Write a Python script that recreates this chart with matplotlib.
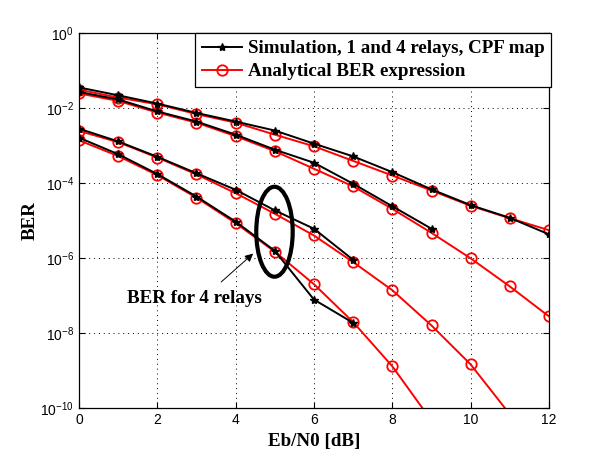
import numpy as np
import matplotlib
matplotlib.use('Agg')
import matplotlib.pyplot as plt
from matplotlib.patches import Ellipse

plt.rcParams['font.family'] = ['Liberation Sans', 'DejaVu Sans']
plt.rcParams['mathtext.fontset'] = 'custom'
plt.rcParams['mathtext.rm'] = 'Liberation Sans'

# Eb/N0 [dB]
snr = np.arange(0, 13)

# BER (log10 values), 4 groups, sim and analytical
sim_a = [-1.44, -1.65, -1.87, -2.12, -2.35, -2.59, -2.94, -3.28, -3.70, -4.16, -4.58, -4.92, -5.36]
ana_a = [-1.50, -1.71, -1.89, -2.15, -2.38, -2.70, -3.01, -3.40, -3.79, -4.19, -4.60, -4.93, -5.25]

sim_b = [-1.56, -1.76, -2.08, -2.35, -2.70, -3.10, -3.45, -4.01, -4.61, -5.21]
ana_b = [-1.60, -1.80, -2.11, -2.38, -2.74, -3.14, -3.61, -4.08, -4.68, -5.32, -6.00, -6.75, -7.55]

sim_c = [-2.54, -2.88, -3.29, -3.73, -4.17, -4.72, -5.21, -6.04]
ana_c = [-2.60, -2.90, -3.31, -3.76, -4.26, -4.81, -5.39, -6.10, -6.85, -7.79, -8.83, -10.16]

sim_d = [-2.78, -3.22, -3.75, -4.35, -5.02, -5.80, -7.10, -7.72]
ana_d = [-2.85, -3.27, -3.78, -4.38, -5.06, -5.82, -6.69, -7.70, -8.88, -10.33]

sims = [sim_a, sim_b, sim_c, sim_d]
anas = [ana_a, ana_b, ana_c, ana_d]

label_sim = 'Simulation, 1 and 4 relays, CPF map'
label_ana = 'Analytical BER expression'

fig = plt.figure(figsize=(6.07, 4.58), dpi=100)
ax = fig.add_axes([0.130, 0.1085, 0.7745, 0.8185])

serif_bold = dict(family='Liberation Serif', weight='bold', size=13.7)

for i, (s, a) in enumerate(zip(sims, anas)):
    ax.semilogy(snr[:len(a)], 10.0 ** np.array(a), '-o', color='r', lw=1.4,
                ms=7.5, mfc='none', mew=1.3, label=label_ana if i == 0 else None, zorder=2)
    ax.semilogy(snr[:len(s)], 10.0 ** np.array(s), '-*', color='k', lw=1.4,
                ms=6, label=label_sim if i == 0 else None, zorder=3)

ax.set_xlim(0, 12)
ax.set_ylim(1e-10, 1)
ax.set_xticks(np.arange(0, 13, 2))
ax.set_yticks([1e0, 1e-2, 1e-4, 1e-6, 1e-8, 1e-10])
ax.minorticks_off()
ax.tick_params(direction='in', top=True, right=True, length=4, labelsize=10, width=0.8)
ax.grid(True, color='k', linestyle=(0, (1, 4)), linewidth=0.7)
for sp in ax.spines.values():
    sp.set_linewidth(0.9)

ax.set_xlabel('Eb/N0 [dB]', fontdict=serif_bold, labelpad=4)
ax.set_ylabel('BER', fontdict=serif_bold, labelpad=1)

# legend: simulation first
h, l = ax.get_legend_handles_labels()
order = [l.index(label_sim), l.index(label_ana)]
leg = ax.legend([h[k] for k in order], [l[k] for k in order], loc='upper right',
                bbox_to_anchor=(1.004, 1.0), borderaxespad=0, fancybox=False,
                edgecolor='k', framealpha=1, handlelength=2.1, handletextpad=0.3,
                borderpad=0.35, labelspacing=0.3, prop=serif_bold)
leg.get_frame().set_linewidth(0.9)

# annotation: ellipse around 4 relay curves + arrow + text
ell_center = (0.416, 0.471)
ell_w, ell_h = 0.0775, 0.24
ax.add_patch(Ellipse(ell_center, ell_w, ell_h, transform=ax.transAxes,
                     fill=False, ec='k', lw=3, zorder=5))
ax.annotate('', xy=(4.5, 1.5e-6), xytext=(3.58, 2.1e-7),
            arrowprops=dict(arrowstyle='-|>', color='k', lw=0.7, mutation_scale=12))
ax.text(2.96, 8.6e-8, 'BER for 4 relays', ha='center', va='center', fontdict=serif_bold)

plt.savefig('out.png', dpi=100)
